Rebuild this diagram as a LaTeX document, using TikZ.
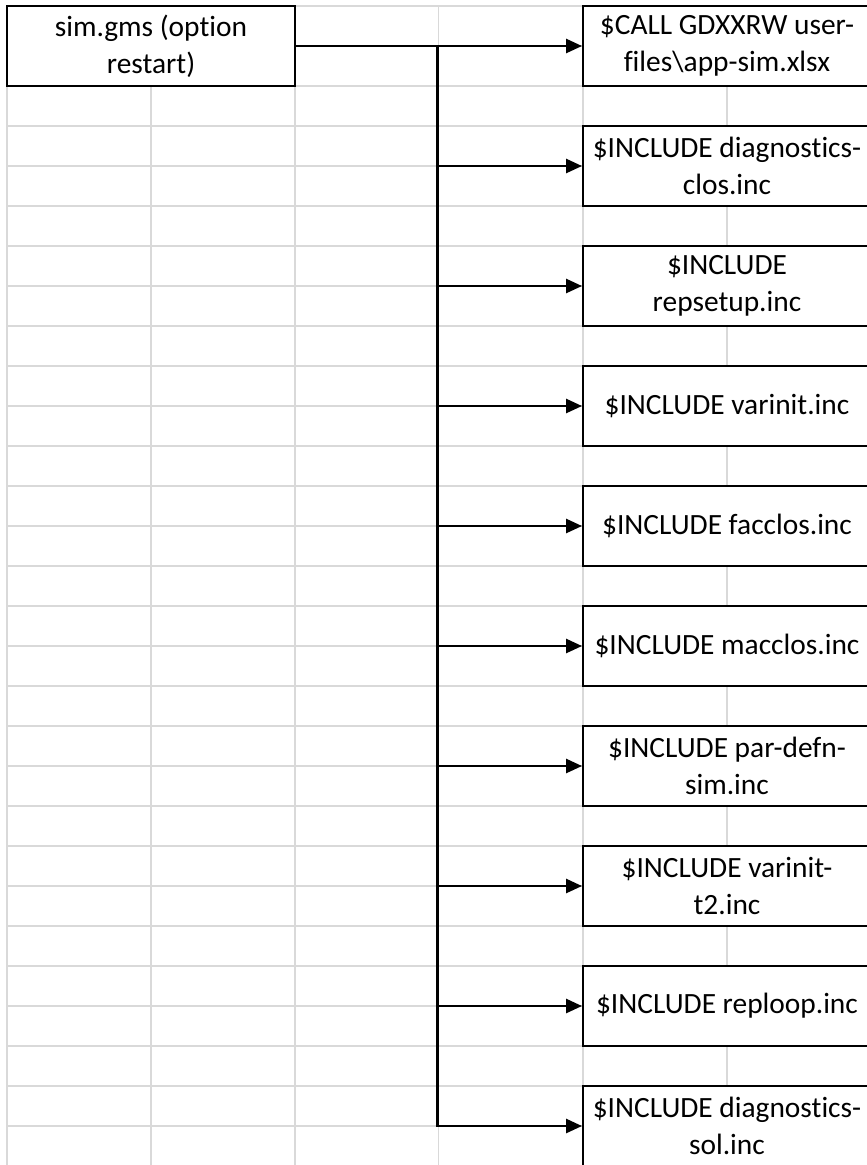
\documentclass[tikz,border=0pt]{standalone}
\usepackage{fontspec}
\setmainfont[Ligatures={NoCommon}]{Carlito}
\usepackage{tikz}
\usetikzlibrary{arrows.meta}
\definecolor{cellGray}{HTML}{D9D9D9}

\begin{document}
\begin{tikzpicture}[
  x=1pt, y=-1pt,
  cell/.style={draw=cellGray, line width=1.5pt},
  filebox/.style={draw=black, fill=white, line width=1.9pt, minimum width=288pt,
                  minimum height=80pt, inner sep=0pt, align=center,
                  font=\fontsize{29.4}{37}\selectfont},
  link/.style={line width=2.6pt, -{Triangle[length=16pt, width=14pt]}},
]
  \useasboundingbox (0,0) rectangle (867,1165);
  % sheet cells behind the chart
  \foreach \gx in {7,151,295,438.5,583,727}
    \draw[cell] (\gx,6) -- (\gx,1170);
  \foreach \gy in {0,...,28}
    \draw[cell] (7,{6+40*\gy}) -- (875,{6+40*\gy});

  \node[filebox] (sim) at (151,46) {sim.gms (option\\restart)};

  \node[filebox] (gdx) at (727,46) {\$CALL GDXXRW user-\\files\textbackslash app-sim.xlsx};
  \node[filebox] (diagclos) at (727,166) {\$INCLUDE diagnostics-\\clos.inc};
  \node[filebox] (repsetup) at (727,286) {\$INCLUDE\\repsetup.inc};
  \node[filebox] (varinit) at (727,406) {\$INCLUDE varinit.inc};
  \node[filebox] (facclos) at (727,526) {\$INCLUDE facclos.inc};
  \node[filebox] (macclos) at (727,646) {\$INCLUDE macclos.inc};
  \node[filebox] (pardefn) at (727,766) {\$INCLUDE par-defn-\\sim.inc};
  \node[filebox] (varinittwo) at (727,886) {\$INCLUDE varinit-\\t2.inc};
  \node[filebox] (reploop) at (727,1006) {\$INCLUDE reploop.inc};
  \node[filebox] (diagsol) at (727,1126) {\$INCLUDE diagnostics-\\sol.inc};

  % branch line
  \coordinate (trunk) at (437.5,0);
  \draw[link] (sim.east) -- (gdx.west);
  \draw[link] (trunk |- sim.east) -- (trunk |- diagsol.west) -- (diagsol.west);
  \draw[link] (trunk |- diagclos.west) -- (diagclos.west);
  \draw[link] (trunk |- repsetup.west) -- (repsetup.west);
  \draw[link] (trunk |- varinit.west) -- (varinit.west);
  \draw[link] (trunk |- facclos.west) -- (facclos.west);
  \draw[link] (trunk |- macclos.west) -- (macclos.west);
  \draw[link] (trunk |- pardefn.west) -- (pardefn.west);
  \draw[link] (trunk |- varinittwo.west) -- (varinittwo.west);
  \draw[link] (trunk |- reploop.west) -- (reploop.west);
\end{tikzpicture}
\end{document}
